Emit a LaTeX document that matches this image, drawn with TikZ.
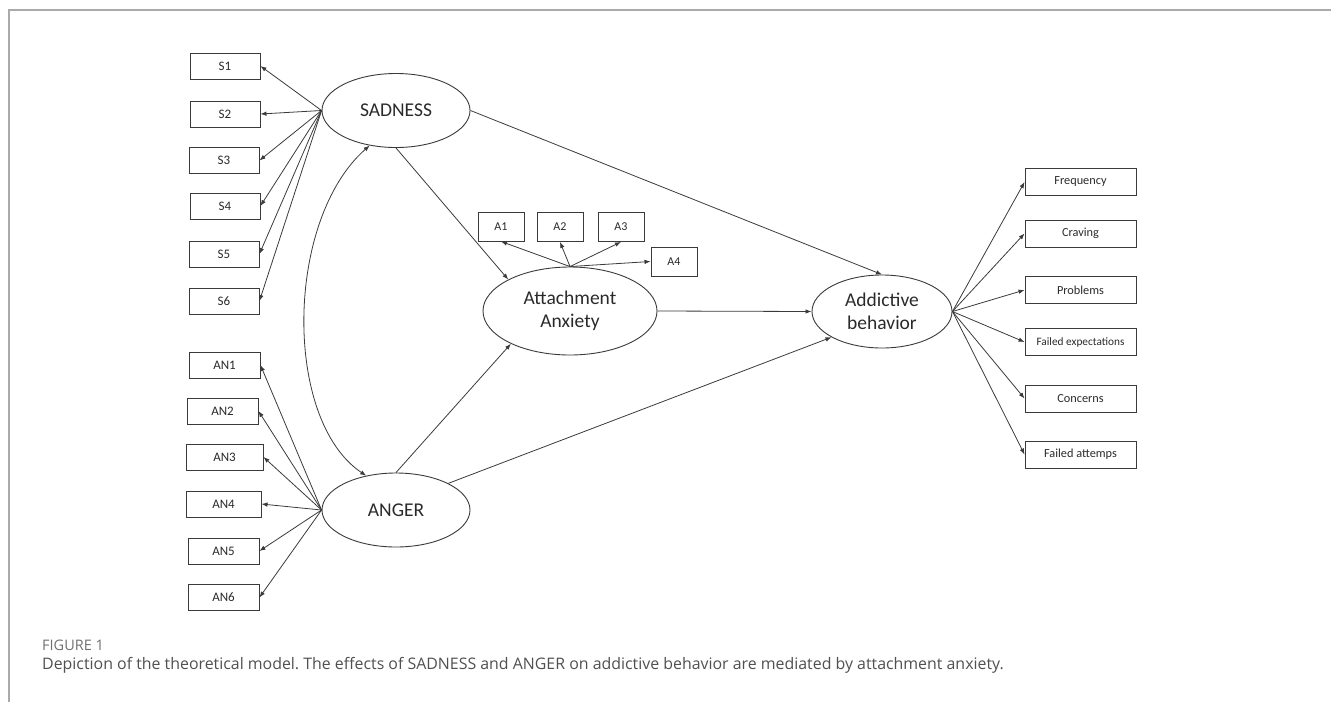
\documentclass[tikz,border=0pt]{standalone}
\usepackage{fontspec}
\setmainfont{Carlito}
\newfontfamily\capfont{Open Sans}
\usetikzlibrary{shapes.geometric,arrows.meta}
\definecolor{ln}{HTML}{3A3A3A}
\definecolor{txt}{HTML}{2A2A2A}
\definecolor{framec}{HTML}{AAAAAA}
\definecolor{capgray}{HTML}{707070}
\definecolor{captxt}{HTML}{505050}
\frenchspacing
\begin{document}
\begin{tikzpicture}[x=1pt,y=-1pt,
 obs/.style={draw=ln, line width=0.9pt, rectangle, inner sep=0pt, minimum height=26pt, text=txt, font=\fontsize{13}{13}\selectfont},
 rbox/.style={draw=ln, line width=0.9pt, rectangle, inner sep=0pt, minimum width=111pt, minimum height=27pt, text=txt, font=\fontsize{12.3}{13}\selectfont},
 abox/.style={draw=ln, line width=0.9pt, rectangle, inner sep=0pt, minimum width=46pt, minimum height=29pt, text=txt, font=\fontsize{12}{13}\selectfont},
 lat/.style={draw=ln, line width=0.9pt, ellipse, inner sep=0pt, text=txt, font=\fontsize{19.5}{23}\selectfont, align=center},
 arr/.style={draw=ln, line width=0.8pt, -{Latex[length=6pt,width=4.5pt]}},
 darr/.style={draw=ln, line width=0.8pt, {Latex[length=6pt,width=4.5pt]}-{Latex[length=6pt,width=4.5pt]}},
 frame/.style={draw=framec, line width=1.3pt},
]
\path[use as bounding box] (0,0) rectangle (1331,702);
\draw[frame] (9,702) -- (9,10) -- (1331,10);

% latent variables
\node[lat, minimum width=148pt, minimum height=74pt] (sad) at (396,110.5) {SADNESS};
\node[lat, minimum width=148pt, minimum height=74pt] (ang) at (396,510) {ANGER};
\node[lat, minimum width=174pt, minimum height=88pt] (aa) at (570,311) {Attachment\\Anxiety};
\node[lat, minimum width=140pt, minimum height=73pt] (ab) at (882,311.5) {Addictive\\behavior};

% sadness indicators
\node[obs, minimum width=70pt] (s1) at (225,66) {S1};
\node[obs, minimum width=70pt] (s2) at (225,114) {S2};
\node[obs, minimum width=70pt] (s3) at (224,160.5) {S3};
\node[obs, minimum width=70pt] (s4) at (225,206) {S4};
\node[obs, minimum width=70pt] (s5) at (224,254) {S5};
\node[obs, minimum width=70pt] (s6) at (224,301) {S6};

% anger indicators
\node[obs, minimum width=71pt] (an1) at (224.5,365) {AN1};
\node[obs, minimum width=71pt] (an2) at (222.5,411) {AN2};
\node[obs, minimum width=77pt] (an3) at (224.5,457) {AN3};
\node[obs, minimum width=75pt] (an4) at (223.5,504) {AN4};
\node[obs, minimum width=71pt] (an5) at (223.5,551) {AN5};
\node[obs, minimum width=71pt] (an6) at (223.5,597.5) {AN6};

% attachment indicators
\node[abox] (a1) at (501,226.5) {A1};
\node[abox] (a2) at (560,227) {A2};
\node[abox] (a3) at (621,227) {A3};
\node[abox] (a4) at (674,261.5) {A4};

% addictive behavior indicators
\node[rbox] (r1) at (1080.5,182) {Frequency};
\node[rbox] (r2) at (1080.5,233.5) {Craving};
\node[rbox] (r3) at (1080.5,290) {Problems};
\node[rbox, font=\fontsize{11.3}{12}\selectfont] (r4) at (1080.5,342) {Failed expectations};
\node[rbox] (r5) at (1080.5,398.5) {Concerns};
\node[rbox] (r6) at (1080.5,454.5) {Failed attemps};

% loadings
\foreach \t in {s1,s2,s3,s4,s5,s6} \draw[arr] (sad.west) -- (\t.east);
\foreach \t in {an1,an2,an3,an4,an5,an6} \draw[arr] (ang.west) -- (\t.east);
\foreach \t in {r1,r2,r3,r4,r5,r6} \draw[arr] (ab.east) -- (\t.west);
\draw[arr] (aa.north) -- (a1.south);
\draw[arr] (aa.north) -- (a2.south);
\draw[arr] (aa.north) -- (a3.south);
\draw[arr] (aa.north) -- (a4.west);

% structural paths
\draw[arr] (sad.south) -- (aa.153);
\draw[arr] (ang.north) -- (aa.209);
\draw[arr] (aa.east) -- (ab.west);
\draw[arr] (sad.east) -- (ab.north);
\draw[arr] (ang.27) -- (ab.207);
\draw[darr] (sad.233) .. controls (285,220) and (283,420) .. (ang.131);

% caption
\node[anchor=base west, inner sep=0pt, text=capgray, font=\capfont\fontsize{14.5}{14.5}\selectfont] (fig) at (42,650) {FIGURE 1};
\node[anchor=base west, inner sep=0pt, text=captxt, font=\capfont\fontsize{15.9}{15.9}\selectfont] (cap) at (42,669) {Depiction of the theoretical model. The effects of SADNESS and ANGER on addictive behavior are mediated by attachment anxiety.};
\end{tikzpicture}
\end{document}
